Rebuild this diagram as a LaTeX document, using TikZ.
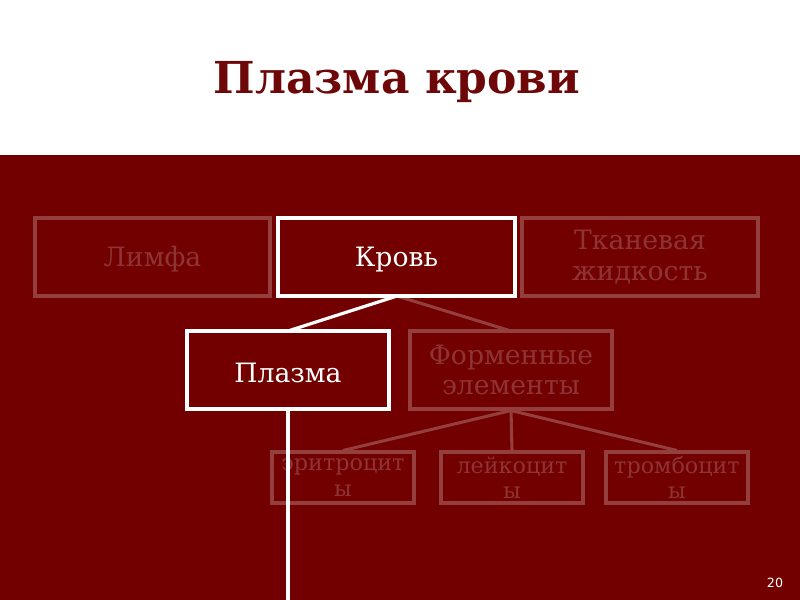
\documentclass[tikz,border=0pt]{standalone}
\usepackage{fontspec}
\setmainfont{DejaVu Serif}
\newfontfamily\numfont{DejaVu Sans}
\definecolor{bgred}{RGB}{114,0,0}
\definecolor{titlered}{RGB}{110,8,8}
\definecolor{fadeline}{RGB}{148,62,62}
\definecolor{fadetext}{RGB}{142,52,52}
\begin{document}
\begin{tikzpicture}[x=0.75pt,y=-0.75pt,
  bigbox/.style={draw=white,line width=2.4pt,text=white,minimum height=58.5pt,inner sep=0pt,align=center,font=\fontsize{20}{23}\selectfont},
  fadebig/.style={draw=fadeline,line width=2.3pt,text=fadetext,minimum height=58.5pt,inner sep=0pt,align=center,font=\fontsize{20}{23}\selectfont},
  fadesmall/.style={draw=fadeline,line width=2.3pt,text=fadetext,minimum width=106.5pt,text width=106.5pt,minimum height=38.25pt,inner sep=0pt,align=center,font=\fontsize{16.7}{19}\selectfont},
  lowtext/.style={text height=19pt},
  whiteline/.style={draw=white,line width=2.4pt},
  fadeconn/.style={draw=fadeline,line width=2.3pt}]
\useasboundingbox (0,0) rectangle (800,600);
\fill[white] (0,0) rectangle (800,600);
\fill[bgred] (0,155) rectangle (800,600);
\node[text=titlered,font=\fontsize{33}{38}\selectfont\bfseries] (title) at (397,82) {Плазма крови};
% connectors
\coordinate (krovb) at (397,296);
\coordinate (bottom) at (288,600);
\draw[whiteline] (krovb) -- (288,331);
\draw[fadeconn] (krovb) -- (511,331);
\node[fadebig,lowtext,minimum width=176.25pt] (limfa) at (152.5,257) {Лимфа};
\node[fadebig,minimum width=177pt] (tkan) at (640,257) {Тканевая\\жидкость};
\node[fadebig,minimum width=151.5pt] (form) at (511,370) {Форменные\\элементы};
\node[fadesmall] (eri) at (343,477.5) {эритроцит\\ы};
\node[fadesmall] (lei) at (512,477.5) {лейкоцит\\ы};
\node[fadesmall] (tro) at (677,477.5) {тромбоцит\\ы};
\draw[fadeconn] (form.south) -- (eri.north);
\draw[fadeconn] (form.south) -- (lei.north);
\draw[fadeconn] (form.south) -- (tro.north);
\node[bigbox,lowtext,minimum width=177.75pt] (krov) at (396.5,257) {Кровь};
\node[bigbox,lowtext,minimum width=151.5pt] (plazma) at (288,370) {Плазма};
\draw[whiteline] (plazma.south) -- (bottom);
\node[text=white,font=\numfont\fontsize{9.5}{11}\selectfont] (num) at (775,583) {20};
\end{tikzpicture}
\end{document}
